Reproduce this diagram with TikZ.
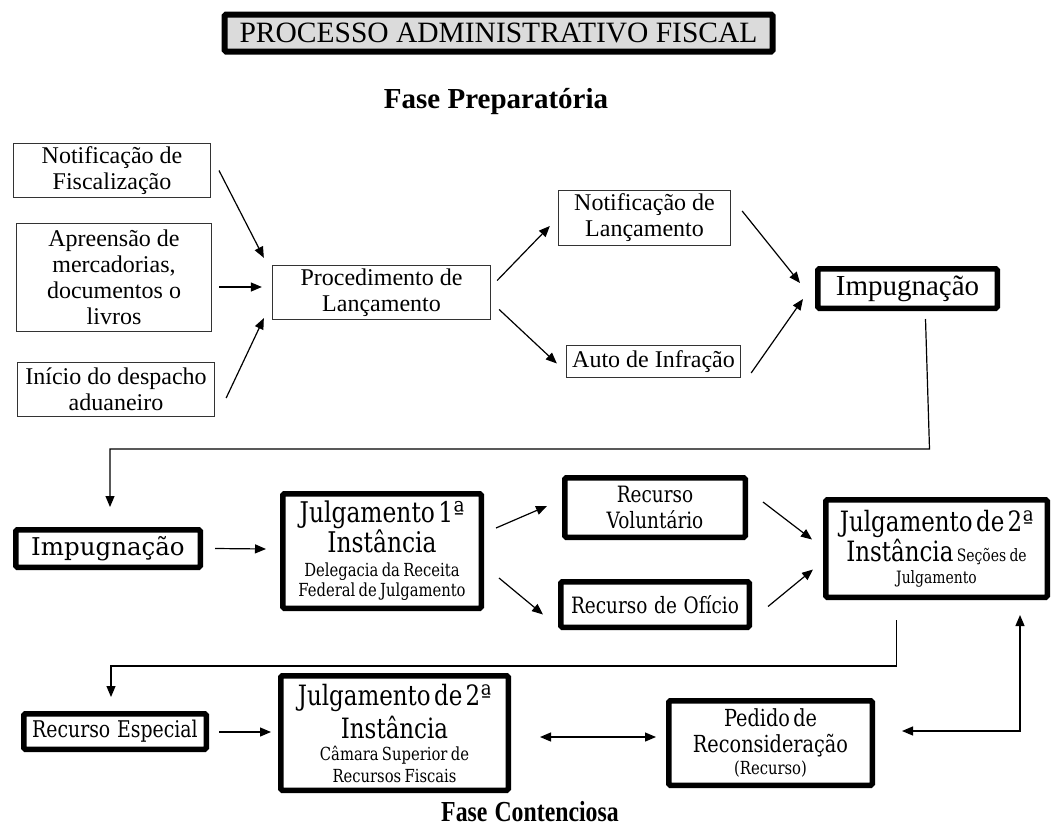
\documentclass[tikz,border=0pt]{standalone}
\usepackage{fontspec}
\setmainfont{Liberation Serif}
\newfontfamily\dvc[FakeStretch=0.82,WordSpace={1.15,1,0}]{DejaVu Serif}
\newfontfamily\dvs{DejaVu Serif}
\newfontfamily\lsc[FakeStretch=0.82,WordSpace=1.2]{Liberation Serif}
\usetikzlibrary{arrows.meta,calc}
\begin{document}
\begin{tikzpicture}[x=1pt,y=-1pt,
  sz/.style 2 args={minimum width=#1pt, minimum height=#2pt},
  thinbox/.style={draw=black!80, line width=1.3pt, inner sep=0pt, align=center, font=\fontsize{24}{26}\selectfont},
  thickbox/.style={draw, line width=5.5pt, rounded corners=1.5pt, inner sep=0pt, align=center},
  arr/.style={line width=1.2pt, -{Triangle[length=11pt,width=9pt]}},
  dbl/.style={line width=1.2pt, {Triangle[length=11pt,width=9pt]}-{Triangle[length=11pt,width=9pt]}}
]
\useasboundingbox (0,0) rectangle (1052,827);

% title
\node[thickbox, line width=6pt, fill=black!14, sz={548}{37}, font=\fontsize{29.5}{30}\selectfont] (title) at (498.5,33) {PROCESSO ADMINISTRATIVO FISCAL};
\node[font=\bfseries\fontsize{29}{30}\selectfont] (fp) at (496,102) {Fase Preparatória};

% preparatory phase
\node[thinbox, sz={196.7}{53.7}] (n1) at (112,170.5) {Notificação de\\Fiscalização};
\node[thinbox, sz={195}{108}] (n2) at (114,277.5) {Apreensão de\\mercadorias,\\documentos o\\livros};
\node[thinbox, sz={197}{54}] (n3) at (116,389.5) {Início do despacho\\aduaneiro};
\node[thinbox, sz={218}{54}] (proc) at (381.5,292.5) {Procedimento de\\Lançamento};
\node[thinbox, sz={172}{55}] (nl) at (644.5,218) {Notificação de\\Lançamento};
\node[thinbox, sz={174}{32}] (ai) at (653.5,361.5) {Auto de Infração};
\node[thickbox, sz={179.5}{39.5}, font=\fontsize{29}{30}\selectfont] (imp1) at (907.5,288.5) {Impugnação};

% middle row
\node[thickbox, sz={184.5}{37.5}, font=\dvs\fontsize{24.5}{26}\selectfont] (imp2) at (108,548.5) {Impugnação};
\node[thickbox, sz={198.5}{114.5}, text width=196pt, font=\dvc] (j1) at (382,551)
  {{\fontsize{28.5}{30}\selectfont Julgamento 1ª\\Instância\par}\vskip 4pt{\fontsize{18}{20}\selectfont Delegacia da Receita\\Federal de Julgamento\par}};
\node[thickbox, sz={180.5}{59.5}, font=\dvc\fontsize{22.5}{26}\selectfont] (rv) at (655,507.5) {Recurso\\Voluntário};
\node[thickbox, sz={188.5}{45.5}, font=\dvc\fontsize{22.5}{26}\selectfont] (ro) at (655,604.5) {Recurso de Ofício};
\node[thickbox, sz={221.5}{97.5}, text width=220pt, font=\dvc] (j2a) at (936.5,548.5)
  {{\fontsize{28}{30}\selectfont Julgamento de 2ª\\Instância {\fontsize{17}{20}\selectfont Seções de}\par}{\fontsize{17}{22}\selectfont Julgamento\par}};

% bottom row
\node[thickbox, sz={182.5}{35.5}, font=\dvc\fontsize{23}{26}\selectfont] (re) at (115,731.5) {Recurso Especial};
\node[thickbox, sz={227.5}{114.5}, text width=226pt, font=\dvc] (j2b) at (394.5,733)
  {{\fontsize{28}{33}\selectfont Julgamento de 2ª\\Instância\par}{\fontsize{18}{22}\selectfont Câmara Superior de\\Recursos Fiscais\par}};
\node[thickbox, sz={203.5}{84.5}, text width=202pt, font=\dvc] (ped) at (770.5,743)
  {{\fontsize{23.5}{26}\selectfont Pedido de\\Reconsideração\par}{\fontsize{18}{22}\selectfont (Recurso)\par}};
\node[font=\lsc\bfseries\fontsize{29}{30}\selectfont] (fc) at (530,812) {Fase Contenciosa};

% connectors, preparatory
\draw[arr] ($(n1.east)+(8,0)$) -- ($(proc.north west)+(-8,-7)$);
\draw[arr] ($(n2.east)+(7,9.5)$) -- ($(proc.west)+(-10,-5.5)$);
\draw[arr] ($(n3.east)+(11,8.5)$) -- ($(proc.south west)+(-8,-2)$);
\draw[arr] ($(proc.east)+(6,-12)$) -- ($(nl.west)+(-8,8)$);
\draw[arr] ($(proc.east)+(8,17)$) -- ($(ai.west)+(-9,2)$);
\draw[arr] ($(nl.east)+(11,-7)$) -- ($(imp1.west)+(-15,-5.5)$);
\draw[arr] ($(ai.east)+(10,11.5)$) -- ($(imp1.west)+(-12,10.5)$);
\draw[arr] ($(imp1.south)+(18,8)$) -- ($(imp1.south)+(22,138)$) -| ($(imp2.north)+(2,-20)$);

% connectors, middle
\draw[arr] ($(imp2.east)+(12,0)$) -- ($(j1.west)+(-14,-2)$);
\draw[arr] ($(j1.east)+(12,-23)$) -- ($(rv.west)+(-15,-1.5)$);
\draw[arr] ($(j1.east)+(15,27)$) -- ($(ro.west)+(-15,10)$);
\draw[arr] ($(rv.east)+(15,-5.5)$) -- ($(j2a.west)+(-11,-9)$);
\draw[arr] ($(ro.east)+(16,2)$) -- ($(j2a.west)+(-10,21)$);
\draw[arr] ($(j2a.south)+(-40,20)$) -- ($(j2a.south)+(-40,66)$) -| ($(re.north)+(-4,-14)$);

% connectors, bottom
\draw[arr] ($(re.east)+(10,0.5)$) -- ($(j2b.west)+(-7,-1)$);
\draw[dbl] ($(j2b.east)+(29,4)$) -- ($(ped.west)+(-10,-6)$);
\draw[dbl] ($(ped.east)+(27,-12)$) -| ($(j2a.south)+(83.5,15)$);
\end{tikzpicture}
\end{document}
